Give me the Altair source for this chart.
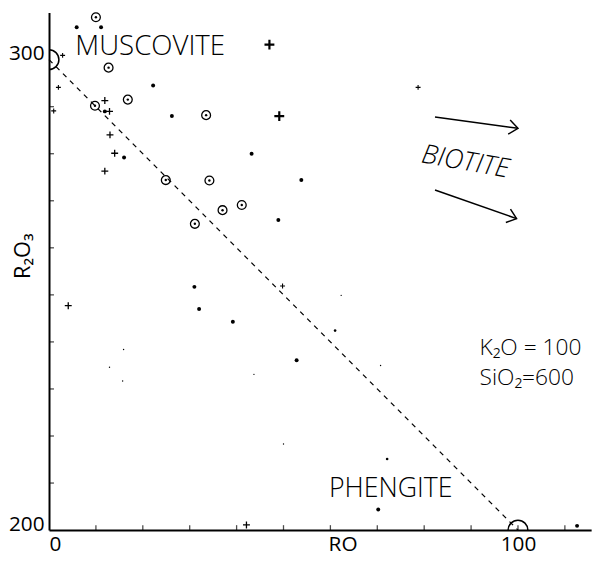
import altair as alt
import pandas as pd

FONT = "Open Sans"

# ---- data (RO on x, R2O3 on y) ----
circ_x = [10.0, 12.7, 16.8, 9.8, 33.5, 24.9, 34.2, 37.0, 41.1, 31.1]
circ_y = [309.0, 298.3, 291.5, 290.2, 288.2, 274.4, 274.3, 268.0, 269.1, 265.1]

dot_x = [5.9, 11.1, 22.2, 11.9, 26.2, 16.0, 43.2, 53.8, 48.9, 31.0, 32.0, 39.2, 52.8, 70.2, 112.6]
dot_y = [306.9, 306.9, 294.5, 289.0, 288.0, 279.2, 280.0, 274.4, 265.9, 251.7, 247.0, 244.3, 236.1, 204.4, 200.9]

small_x = [61.0, 72.1]
small_y = [242.4, 215.1]

tiny_x = [62.3, 70.7, 15.9, 12.9, 15.7, 43.7, 50.0]
tiny_y = [249.9, 235.0, 238.4, 234.6, 231.7, 233.1, 218.3]

plus_x = [11.9, 12.9, 13.0, 14.0, 11.9, 4.1, 42.1]
plus_y = [291.3, 289.0, 284.0, 280.1, 276.3, 247.7, 201.1]

splus_x = [2.9, 2.0, 1.0, 78.7, 49.8]
splus_y = [300.9, 294.1, 289.1, 294.1, 251.9]

bplus_x = [47.0, 49.1]
bplus_y = [303.2, 288.0]

end_x = [0, 100]
end_y = [300, 200]

arrow_x0 = [82.3, 82.3]
arrow_y0 = [287.8, 272.3]
arrow_x1 = [100.0, 99.7]
arrow_y1 = [285.4, 266.2]
arrow_angle = [8, 19]

x_ticks = [10, 20, 30, 40, 50, 60, 70, 80, 90, 100, 110]
y_ticks = [210, 220, 230, 240, 250, 260, 270, 280, 290]

ann_text = ["MUSCOVITE", "BIOTITE", "PHENGITE", "K₂O = 100", "SiO₂=600"]
ann_x = [5.6, 88.8, 59.7, 91.8, 91.8]
ann_y = [301.0, 278.2, 207.1, 237.2, 230.8]

# ---- helpers ----
xs = alt.Scale(domain=[0, 115.6], nice=False, zero=False)
ys = alt.Scale(domain=[200, 310], nice=False, zero=False)

x_axis = alt.Axis(values=[0, 100], grid=False, ticks=False, tickSize=0,
                  domainColor="black", domainWidth=2, labelColor="black",
                  labelFont=FONT, labelFontSize=21, labelPadding=4,
                  title="RO", titleFont=FONT, titleFontSize=21,
                  titleFontWeight="normal", titleColor="black",
                  titleX=297, titleY=4, titleBaseline="top", titleAlign="center")
y_axis = alt.Axis(values=[200, 300], grid=False, ticks=False, tickSize=0,
                  domainColor="black", domainWidth=2, labelColor="black",
                  labelFont=FONT, labelFontSize=21, labelPadding=5,
                  labelBaseline="alphabetic",
                  title="R₂O₃", titleFont=FONT, titleFontSize=22,
                  titleFontWeight="normal", titleColor="black",
                  titleX=-27, titleY=246, titleBaseline="middle", titleAlign="center")


def df(x, y):
    return pd.DataFrame({"x": x, "y": y})


def X(field="x:Q"):
    return alt.X(field, scale=xs, axis=x_axis)


def Y(field="y:Q"):
    return alt.Y(field, scale=ys, axis=y_axis)


PLUS = "M-1,0L1,0M0,-1L0,1"
CHEV = "M-1,-0.8L0,0L-1,0.8"

# dashed line
line = alt.Chart(df(end_x, end_y)).mark_line(
    color="black", strokeDash=[5, 5], strokeWidth=1.3
).encode(x=X(), y=Y())

# end circles (clipped by the plot frame)
ends = alt.Chart(df(end_x, end_y)).mark_point(
    shape="circle", size=400, filled=False, color="black", strokeWidth=1.5, clip=True,
    opacity=1
).encode(x=X(), y=Y())

# inward axis ticks
xt = alt.Chart(pd.DataFrame({"x": x_ticks, "y": [200] * len(x_ticks)})).mark_tick(
    color="black", orient="vertical", size=5, thickness=1.3, yOffset=-2.5
).encode(x=X(), y=Y())
yt = alt.Chart(pd.DataFrame({"y": y_ticks, "x": [0] * len(y_ticks)})).mark_tick(
    color="black", orient="horizontal", size=5, thickness=1.3, xOffset=2.5
).encode(x=X(), y=Y())

rings = alt.Chart(df(circ_x, circ_y)).mark_point(
    shape="circle", size=80, filled=False, color="black", strokeWidth=1.3, opacity=1
).encode(x=X(), y=Y())
ring_dots = alt.Chart(df(circ_x, circ_y)).mark_point(
    shape="circle", size=6, filled=True, color="black", opacity=1
).encode(x=X(), y=Y())
dots = alt.Chart(df(dot_x, dot_y)).mark_point(
    shape="circle", size=16, filled=True, color="black", opacity=1
).encode(x=X(), y=Y())
smalls = alt.Chart(df(small_x, small_y)).mark_point(
    shape="circle", size=7, filled=True, color="black", opacity=1
).encode(x=X(), y=Y())
tinies = alt.Chart(df(tiny_x, tiny_y)).mark_point(
    shape="circle", size=2, filled=True, color="black", opacity=1
).encode(x=X(), y=Y())
pluses = alt.Chart(df(plus_x, plus_y)).mark_point(
    shape=PLUS, size=49, filled=False, color="black", strokeWidth=1.3, opacity=1
).encode(x=X(), y=Y())
spluses = alt.Chart(df(splus_x, splus_y)).mark_point(
    shape=PLUS, size=25, filled=False, color="black", strokeWidth=1.1, opacity=1
).encode(x=X(), y=Y())
bpluses = alt.Chart(df(bplus_x, bplus_y)).mark_point(
    shape=PLUS, size=100, filled=False, color="black", strokeWidth=2.2, opacity=1
).encode(x=X(), y=Y())

arr_df = pd.DataFrame({"x": arrow_x0, "y": arrow_y0, "x1": arrow_x1, "y1": arrow_y1,
                       "ang": arrow_angle})
shafts = alt.Chart(arr_df).mark_rule(color="black", strokeWidth=1.5).encode(
    x=X(), y=Y(), x2="x1:Q", y2="y1:Q")
heads = alt.Chart(arr_df).mark_point(
    shape=CHEV, size=324, filled=False, color="black", strokeWidth=1.5, opacity=1
).encode(x=X("x1:Q"), y=Y("y1:Q"), angle=alt.Angle("ang:Q", scale=None))

ann = pd.DataFrame({"t": ann_text, "x": ann_x, "y": ann_y})


def txt(i, **kw):
    return alt.Chart(ann.iloc[[i]]).mark_text(font=FONT, color="black", **kw).encode(
        x=X(), y=Y(), text="t:N")


t_mus = txt(0, fontSize=28, fontWeight=300, align="left", baseline="alphabetic")
t_bio = txt(1, fontSize=27, fontWeight=300, fontStyle="italic", align="center",
            baseline="middle", angle=10)
t_phe = txt(2, fontSize=27, fontWeight=300, align="left", baseline="alphabetic")
t_k = txt(3, fontSize=23, fontWeight=300, align="left", baseline="alphabetic")
t_si = txt(4, fontSize=23, fontWeight=300, align="left", baseline="alphabetic")

chart = alt.layer(
    line, ends, xt, yt, rings, ring_dots, dots, smalls, tinies, pluses, spluses, bpluses,
    shafts, heads, t_mus, t_bio, t_phe, t_k, t_si
).properties(
    width=548.5, height=523.6,
    background="white",
    autosize=alt.AutoSizeParams(type="none"),
    padding={"left": 41.5, "top": 1.4, "right": 12, "bottom": 26},
).configure_view(stroke=None)

chart.save("out.html", embed_options={"renderer": "svg", "actions": False})
